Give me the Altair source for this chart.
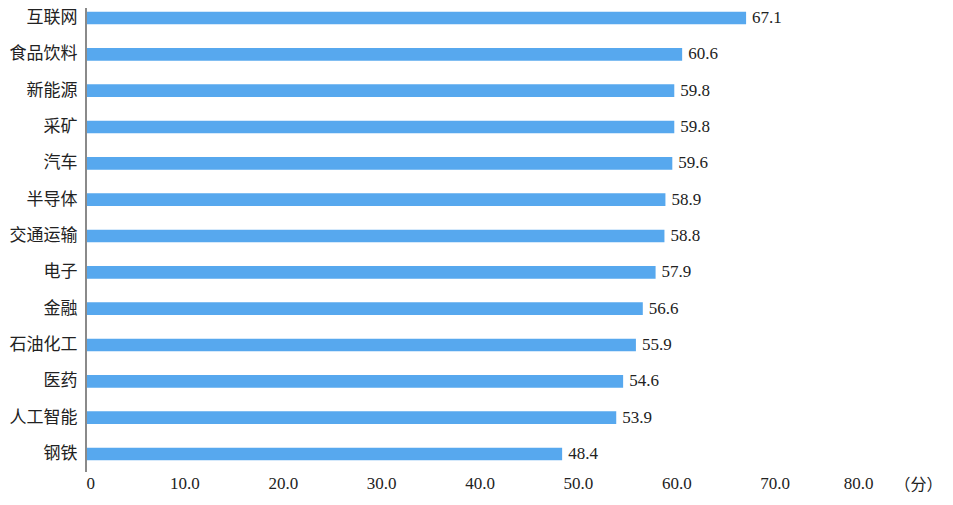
import altair as alt
import pandas as pd

industries = ["互联网", "食品饮料", "新能源", "采矿", "汽车", "半导体", "交通运输",
              "电子", "金融", "石油化工", "医药", "人工智能", "钢铁"]
scores = [67.1, 60.6, 59.8, 59.8, 59.6, 58.9, 58.8, 57.9, 56.6, 55.9, 54.6, 53.9, 48.4]
x_ticks = [0, 10, 20, 30, 40, 50, 60, 70, 80]
unit_label = "（分）"

df = pd.DataFrame({"industry": industries, "score": scores})

NUM_FONT = "Liberation Serif"
CJK_FONT = "Noto Sans CJK SC"
W = 787
H = 452

y_enc = alt.Y("industry:N", sort=industries,
              scale=alt.Scale(paddingInner=0.653, paddingOuter=0.047),
              axis=alt.Axis(title=None, domain=False, ticks=False, labelPadding=9,
                            labelFont=CJK_FONT, labelFontSize=17, labelColor="#222222"))
x_enc = alt.X("score:Q", scale=alt.Scale(domain=[0, 80], nice=False),
              axis=alt.Axis(values=x_ticks, grid=False, domain=False, ticks=False,
                            labelPadding=13, labelFont=NUM_FONT, labelFontSize=17,
                            labelColor="#222222",
                            labelExpr="datum.value == 0 ? '0' : format(datum.value, '.1f')",
                            title=unit_label, titleFont=CJK_FONT, titleFontSize=16,
                            titleFontWeight="normal", titleColor="#222222",
                            titleX=808, titleY=22, titleAlign="left",
                            titleBaseline="middle"))

bars = alt.Chart(df).mark_bar(color="#57A8EE").encode(x=x_enc, y=y_enc)

labels = alt.Chart(df).mark_text(align="left", baseline="middle", dx=6,
                                 font=NUM_FONT, fontSize=17, color="#222222").encode(
    x="score:Q", y=alt.Y("industry:N", sort=industries),
    text=alt.Text("score:Q", format=".1f"))

axis_line = alt.Chart(df).mark_rule(color="#8a8a8a", strokeWidth=1.5).encode(
    x=alt.value(0), y=alt.value(-2), y2=alt.value(462))

chart = alt.layer(bars, labels, axis_line).properties(
    width=W, height=H,
    background="white",
    autosize=alt.AutoSizeParams(type="none"),
    padding={"left": 78, "top": 2, "right": 70, "bottom": 35},
).configure_view(strokeWidth=0, stroke="transparent")

chart.save("out.html", embed_options={"renderer": "svg", "actions": False})
